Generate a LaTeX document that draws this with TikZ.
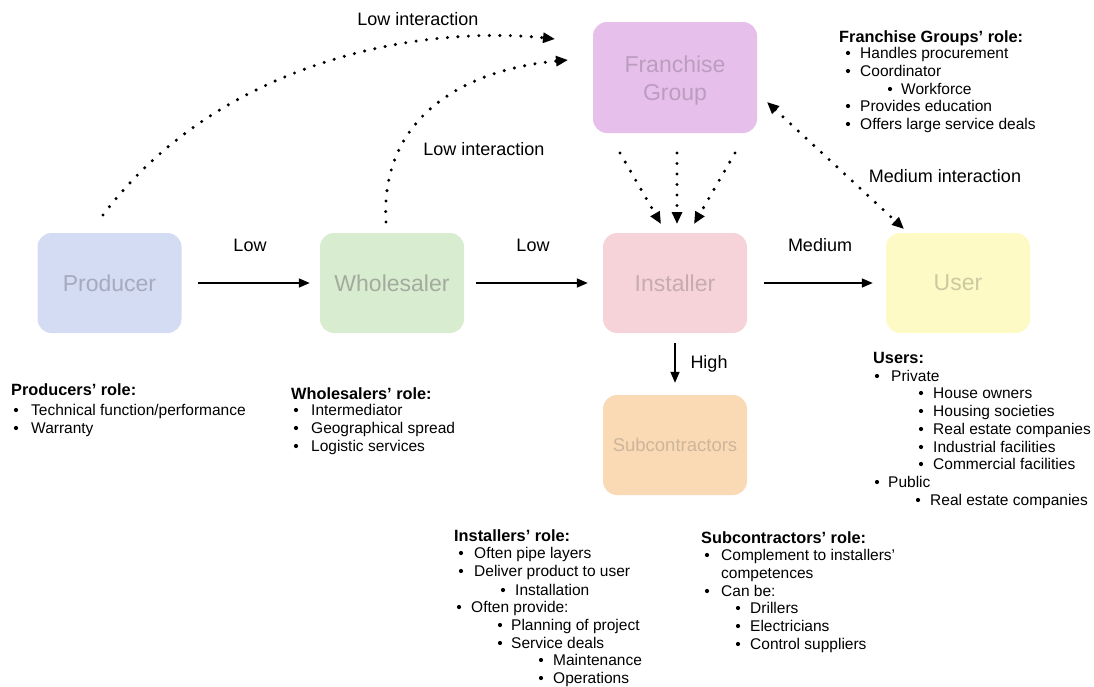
\documentclass[tikz,border=0pt]{standalone}
\usepackage{fontspec}
\setmainfont{Liberation Sans}
\usetikzlibrary{arrows.meta,calc}
\definecolor{pfill}{HTML}{D4DCF4}\definecolor{ptext}{HTML}{A5AABE}
\definecolor{wfill}{HTML}{D8ECD0}\definecolor{wtext}{HTML}{A2AB9E}
\definecolor{ifill}{HTML}{F5D3D8}\definecolor{itext}{HTML}{C7ABAF}
\definecolor{ufill}{HTML}{FDFAC6}\definecolor{utext}{HTML}{CDC99F}
\definecolor{ffill}{HTML}{E6C0EB}\definecolor{ftext}{HTML}{BA9DBF}
\definecolor{sfill}{HTML}{FADAB5}\definecolor{stext}{HTML}{CDB59B}
\tikzset{
 box/.style={rounded corners=14pt, minimum width=144pt, minimum height=100pt, inner sep=0pt, font=\fontsize{23}{28}\selectfont, align=center},
 lbl/.style={inner sep=0pt, font=\fontsize{18}{21}\selectfont},
 txt/.style={anchor=base west, inner sep=0pt, font=\fontsize{15.5}{18}\selectfont},
 ttl/.style={anchor=base west, inner sep=0pt, font=\fontsize{16.3}{18}\selectfont\bfseries},
 flow/.style={line width=1.6pt, -{Triangle[length=11pt,width=9pt]}},
 dots/.style={line width=3.4pt, line cap=round, dash pattern=on 0pt off 10.5pt},
 dtip/.style={-{Triangle[length=12pt,width=10pt]}},
 dtips/.style={{Triangle[length=12pt,width=10pt]}-{Triangle[length=12pt,width=10pt]}},
}
\newcommand\itm[4]{\fill (#1,#3) circle (2.1pt); \node[txt] at (#2,#3+5.5) {#4};}
\newcommand\ttlat[3]{\node[ttl] at (#1,#2+6) {#3};}
\begin{document}
\begin{tikzpicture}[x=1pt,y=-1pt]
\useasboundingbox (0,0) rectangle (1094,686);
% boxes
\node[box, fill=pfill, text=ptext] (prod) at (109.5,283) {Producer};
\node[box, fill=wfill, text=wtext] (whol) at (392,283) {Wholesaler};
\node[box, fill=ifill, text=itext] (inst) at (675,283) {Installer};
\node[box, fill=ufill, text=utext] (user) at (958,283) {User};
\node[box, fill=ffill, minimum width=164pt, minimum height=111pt] (fran) at (675,77.5) {};
\node[box, minimum width=0pt, minimum height=0pt, text=ftext] (franlbl) at ($(fran.center)+(0,3.5)$) {Franchise\\Group};
\node[box, fill=sfill, text=stext, font=\fontsize{18.5}{21}\selectfont] (sub) at (675,445) {Subcontractors};
% solid flows
\draw[flow, shorten <=16.5pt, shorten >=10pt] (prod) -- (whol);
\draw[flow, shorten <=12pt, shorten >=15pt] (whol) -- (inst);
\draw[flow, shorten <=17pt, shorten >=13pt] (inst) -- (user);
\draw[flow, shorten <=10pt, shorten >=12pt] (inst) -- (sub);
\node[lbl] (l1) at (250,245) {Low};
\node[lbl] (l2) at (533,245) {Low};
\node[lbl] (l3) at (820,245) {Medium};
\node[lbl] (l4) at (709,364) {High};
% dotted interactions
\coordinate (p1) at (103,215);
\coordinate (f1) at (555,39);
\coordinate (w1) at (386,222);
\coordinate (f2) at (568,60);
\draw[dots, dtip] (p1) .. controls (220,60) and (420,25) .. (f1);
\draw[dots, dtip] (w1) .. controls (380,120) and (460,70) .. (f2);
\node[lbl] (li1) at (418,19) {Low interaction};
\node[lbl] (li2) at (484,149) {Low interaction};
\coordinate (fa) at (620,153); \coordinate (ia) at (661,224);
\coordinate (fb) at (677,153); \coordinate (ib) at (677,224);
\coordinate (fc) at (735,153); \coordinate (ic) at (694,224);
\draw[dots, dtip] (fa) -- (ia);
\draw[dots, dtip] (fb) -- (ib);
\draw[dots, dtip] (fc) -- (ic);
\coordinate (fu) at (767,102); \coordinate (uf) at (904,229);
\draw[dots, dtips] (fu) -- (uf);
\node[lbl] (lm) at (945,176) {Medium interaction};
% Producers
\ttlat{11}{389}{Producers’ role:}
\itm{16}{31}{410}{Technical function/performance}
\itm{16}{31}{428}{Warranty}
% Wholesalers
\ttlat{291}{393}{Wholesalers’ role:}
\itm{296}{311}{410}{Intermediator}
\itm{296}{311}{428}{Geographical spread}
\itm{296}{311}{446}{Logistic services}
% Franchise
\ttlat{839}{36}{Franchise Groups’ role:}
\itm{848}{860}{53}{Handles procurement}
\itm{848}{860}{71}{Coordinator}
\itm{890}{901}{89}{Workforce}
\itm{848}{860}{106}{Provides education}
\itm{848}{860}{124}{Offers large service deals}
% Installers
\ttlat{454}{535}{Installers’ role:}
\itm{461}{474}{553}{Often pipe layers}
\itm{461}{474}{571}{Deliver product to user}
\itm{503}{515}{590}{Installation}
\itm{459}{471}{607}{Often provide:}
\itm{500}{511}{625}{Planning of project}
\itm{500}{511}{643}{Service deals}
\itm{541}{553}{660}{Maintenance}
\itm{541}{553}{678}{Operations}
% Subcontractors
\ttlat{701}{537}{Subcontractors' role:}
\itm{707}{721}{555}{Complement to installers'}
\node[txt] at (721,573+5.5) {competences};
\itm{707}{721}{591}{Can be:}
\itm{738}{750}{608}{Drillers}
\itm{738}{750}{626}{Electricians}
\itm{738}{750}{644}{Control suppliers}
% Users
\ttlat{873}{357}{Users:}
\itm{877}{891}{376}{Private}
\itm{921}{933}{393}{House owners}
\itm{921}{933}{411}{Housing societies}
\itm{921}{933}{429}{Real estate companies}
\itm{921}{933}{447}{Industrial facilities}
\itm{921}{933}{464}{Commercial facilities}
\itm{877}{888}{482}{Public}
\itm{918}{930}{500}{Real estate companies}
\end{tikzpicture}
\end{document}
